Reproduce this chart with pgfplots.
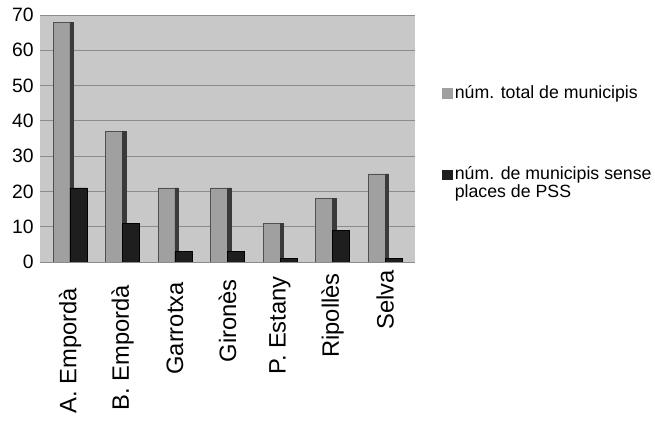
\documentclass[border=0pt]{standalone}
\usepackage{fontspec}
\setmainfont{Liberation Sans}
\usepackage{pgfplots}
\pgfplotsset{compat=1.18}
\definecolor{wallgray}{HTML}{C8C8C8}
\definecolor{gridgray}{HTML}{8C8C8C}
\definecolor{bargray}{HTML}{A0A0A0}
\definecolor{baredge}{HTML}{505050}
\definecolor{barside}{HTML}{3A3A3A}
\definecolor{barblack}{HTML}{1E1E1E}
\pgfplotstableread{
x total sense
0 68 21
1 37 11
2 21 3
3 21 3
4 11 1
5 18 9
6 25 1
}\datatable
\begin{document}
\begin{tikzpicture}
\useasboundingbox (-30pt,-120.75pt) rectangle (461.25pt,196.5pt);
\begin{axis}[
  at={(0,0)}, anchor=south west,
  scale only axis, width=281.25pt, height=185.25pt,
  xmin=-0.571, xmax=6.571, ymin=0, ymax=70,
  ytick={0,10,...,70},
  xtick={0,...,6},
  xticklabels={A. Empordà, B. Empordà, Garrotxa, Gironès, P. Estany, Ripollès, Selva},
  axis background/.style={fill=wallgray},
  axis line style={draw=none},
  major tick length=0pt,
  ymajorgrids, grid style={gridgray, line width=0.6pt},
  /pgf/number format/assume math mode=true,
  yticklabel style={font=\fontsize{14.5}{16}\selectfont, inner sep=0pt, xshift=-4.5pt},
  xticklabel style={font=\fontsize{17.8}{19}\selectfont, inner sep=0pt,
    yshift={-(19.5-2.25*\ticknum)*1pt}, rotate=90, anchor=east},
  ybar, bar width=0.32,
  legend style={at={(1.072,0.725)}, anchor=north west, draw=none, fill=none,
    inner sep=0pt, row sep=45pt, font=\fontsize{13.3}{12}\selectfont,
    cells={align=left, anchor=west}},
  legend cell align=left,
]
\addplot[fill=bargray, draw=baredge, bar shift=-0.16,
  legend image code/.code={\fill[bargray] (0pt,-3.5pt) rectangle (7pt,3.5pt);}]
  table[x=x, y=total] {\datatable};
\addlegendentry{núm. total de municipis}
\addplot[forget plot, fill=barside, draw=barside, bar width=0.07, bar shift=0.035]
  table[x=x, y=total] {\datatable};
\addplot[fill=barblack, draw=black, bar shift=0.16,
  legend image code/.code={\fill[barblack] (0pt,2.5pt) rectangle (7pt,9.5pt);}]
  table[x=x, y=sense] {\datatable};
\addlegendentry{núm. de municipis sense\\places de PSS}
\end{axis}
\end{tikzpicture}
\end{document}
